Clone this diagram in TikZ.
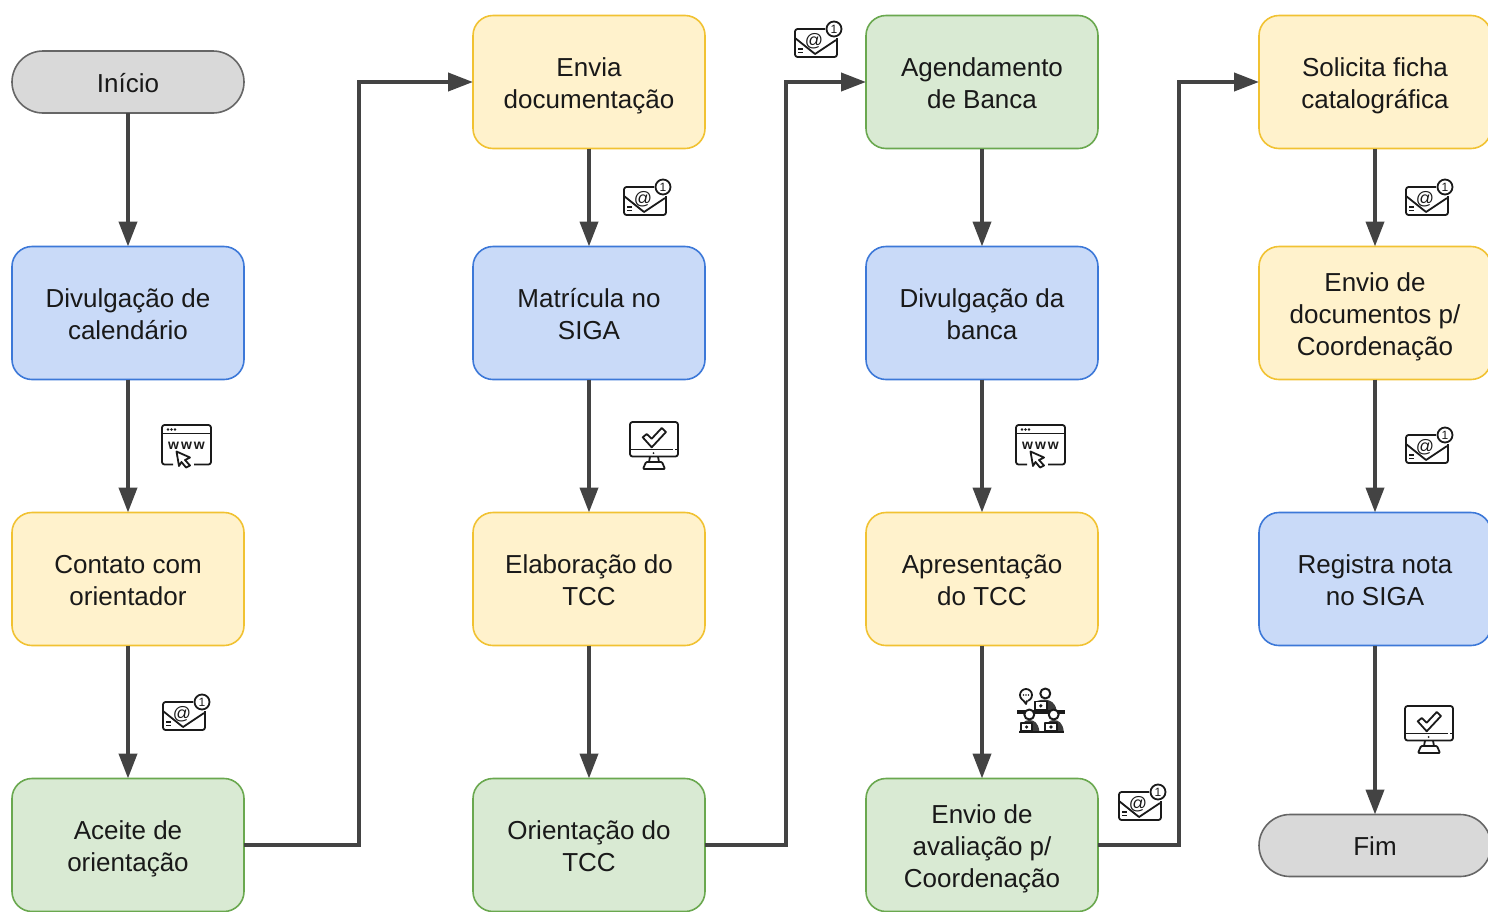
\documentclass[tikz,border=0pt]{standalone}
\usepackage{fontspec}
\setmainfont{Liberation Sans}
\usetikzlibrary{arrows.meta}
\definecolor{linegray}{HTML}{434343}
\definecolor{iconblack}{HTML}{1A1A1A}
\definecolor{boxyellow}{HTML}{F1C232}
\definecolor{fillyellow}{HTML}{FFF2CC}
\definecolor{boxblue}{HTML}{3C78D8}
\definecolor{fillblue}{HTML}{C9DAF8}
\definecolor{boxgreen}{HTML}{6AA84F}
\definecolor{fillgreen}{HTML}{D9EAD3}
\definecolor{boxgray}{HTML}{666666}
\definecolor{fillgray}{HTML}{D9D9D9}
\tikzset{
	flow node/.style={rounded corners=20pt,line width=1.6pt,minimum width=232pt,minimum height=133pt,align=center,inner sep=0pt,outer sep=0pt,
		font=\fontsize{26}{32}\selectfont,text=black!90,
		execute at end node={\rule[-6.2pt]{0pt}{6.2pt}}},
	text box/.style={flow node,execute at begin node={\rule{0pt}{59pt}}},
	three lines/.style={execute at begin node={\rule{0pt}{91pt}}},
	yellow box/.style={text box,draw=boxyellow,fill=fillyellow},
	blue box/.style={text box,draw=boxblue,fill=fillblue},
	green box/.style={text box,draw=boxgreen,fill=fillgreen},
	end node/.style={flow node,execute at begin node={\rule{0pt}{27pt}},rounded corners=31pt,minimum height=62pt,draw=boxgray,fill=fillgray},
	flow arrow/.style={line width=4pt,draw=linegray,-{Triangle[length=25pt,width=18pt]}},
	icon line/.style={line width=1.8pt,draw=iconblack,line join=round},
	icon text/.style={inner sep=0pt,text=iconblack},
	mailicon/.pic={
		\draw[icon line,rounded corners=2.5pt] (-9,0) -- (-39,0) -- (-39,28) -- (3,28) -- (3,9);
		\draw[icon line] (-39,9) -- (-19,25) -- (2,11);
		\draw[icon line] (-36,20) -- (-31,20) (-36,23.5) -- (-31,23.5);
		\node[icon text,font=\fontsize{18}{18}\selectfont] (at) at (-20,12) {@};
		\draw[icon line,fill=white] (0,0) circle (7.5);
		\node[icon text,font=\fontsize{12}{12}\selectfont] (num) at (0,0) {1};
	},
	wwwicon/.pic={
		\draw[icon line,rounded corners=2.5pt] (11,39.5) -- (0,39.5) -- (0,0) -- (49,0) -- (49,39.5) -- (32,39.5);
		\draw[icon line] (0,8.5) -- (49,8.5);
		\foreach \dotx in {6,9.5,13}
			\fill[iconblack] (\dotx,4.5) circle (1.3);
		\node[icon text,font=\fontsize{14}{14}\selectfont\bfseries] (www) at (24.5,21) {w\kern2pt w\kern2pt w};
		\draw[icon line,fill=white] (14.5,26.5) -- (28,32.5) -- (23,35) -- (28,40.5) -- (24,42.5) -- (19.5,37) -- (17,41) -- cycle;
	},
	checkicon/.pic={
		\draw[icon line,rounded corners=2.5pt] (0,0) rectangle (48,34.5);
		\draw[icon line] (0,27.5) -- (43,27.5) (45,27.5) -- (48,27.5);
		\fill[iconblack] (23.5,31) circle (1);
		\draw[icon line] (12.7,15.3) -- (16.7,12) -- (21.7,16.7) -- (31.7,6) -- (36,10) -- (21.7,25.3) -- cycle;
		\draw[icon line] (20,34.5) -- (19,40) (28,34.5) -- (29,40);
		\draw[icon line,rounded corners=1pt] (16,40) -- (32,40) -- (35,47) -- (13,47) -- cycle;
	},
	teamicon/.pic={
		\draw[icon line] (9,6) circle (6);
		\fill[white] (6,10) -- (9,15) -- (11,10) -- cycle;
		\draw[icon line] (6,11) -- (9,15) -- (10,11.5);
		\foreach \dotx in {6.5,9,11.5}
			\fill[iconblack] (\dotx,6) circle (.9);
		\draw[icon line,line width=2pt] (28.3,4.5) circle (5);
		\fill[iconblack!85] (20,12) .. controls (30,8.5) and (38,12) .. (39.5,21) -- (20,21) -- cycle;
		\draw[icon line,fill=white] (17.7,12.5) rectangle (30,21);
		\fill[iconblack] (23.8,16.8) circle (1.8);
		\fill[iconblack] (0,21) rectangle (47.7,25);
		\foreach \headx in {12.3,36.7}{
			\draw[icon line,line width=2pt,fill=white] (\headx,25.5) circle (5);
			\fill[iconblack!85] (\headx-9.5,42) .. controls (\headx-9,34) and (\headx-4,31) .. (\headx,31) .. controls (\headx+5,31) and (\headx+9,34) .. (\headx+10,42) -- cycle;
			\draw[icon line,fill=white] (\headx-8.5,34) rectangle (\headx+3,42);
			\fill[iconblack] (\headx-2.7,38) circle (1.8);
		}
		\fill[iconblack] (1.7,41.5) rectangle (47,44);
	}
}
\begin{document}
\begin{tikzpicture}[x=1pt,y=-1pt]
	\clip[use as bounding box] (0,0) rectangle (1488,911);
	% first column
	\node[end node] (inicio) at (128,82) {Início};
	\node[blue box] (divulgacao) at (128,313) {Divulgação de\\calendário};
	\node[yellow box] (contato) at (128,579) {Contato com\\orientador};
	\node[green box] (aceite) at (128,845) {Aceite de\\orientação};
	% second column
	\node[yellow box] (envia) at (589,82) {Envia\\documentação};
	\node[blue box] (matricula) at (589,313) {Matrícula no\\SIGA};
	\node[yellow box] (elaboracao) at (589,579) {Elaboração do\\TCC};
	\node[green box] (orientacao) at (589,845) {Orientação do\\TCC};
	% third column
	\node[green box] (agendamento) at (982,82) {Agendamento\\de Banca};
	\node[blue box] (banca) at (982,313) {Divulgação da\\banca};
	\node[yellow box] (apresentacao) at (982,579) {Apresentação\\do TCC};
	\node[green box,three lines] (avaliacao) at (982,845) {Envio de\\avaliação p/\\Coordenação};
	% fourth column
	\node[yellow box] (ficha) at (1375,82) {Solicita ficha\\catalográfica};
	\node[yellow box,three lines] (documentos) at (1375,313) {Envio de\\documentos p/\\Coordenação};
	\node[blue box] (nota) at (1375,579) {Registra nota\\no SIGA};
	\node[end node] (fim) at (1375,845.5) {Fim};
	% turns
	\coordinate (turn1) at (358.5,463);
	\coordinate (turn2) at (785.5,463);
	\coordinate (turn3) at (1178.5,463);
	% arrows
	\draw[flow arrow] (inicio) -- (divulgacao);
	\draw[flow arrow] (divulgacao) -- (contato);
	\draw[flow arrow] (contato) -- (aceite);
	\draw[flow arrow] (aceite.east) -| (turn1) |- (envia.west);
	\draw[flow arrow] (envia) -- (matricula);
	\draw[flow arrow] (matricula) -- (elaboracao);
	\draw[flow arrow] (elaboracao) -- (orientacao);
	\draw[flow arrow] (orientacao.east) -| (turn2) |- (agendamento.west);
	\draw[flow arrow] (agendamento) -- (banca);
	\draw[flow arrow] (banca) -- (apresentacao);
	\draw[flow arrow] (apresentacao) -- (avaliacao);
	\draw[flow arrow] (avaliacao.east) -| (turn3) |- (ficha.west);
	\draw[flow arrow] (ficha) -- (documentos);
	\draw[flow arrow] (documentos) -- (nota);
	\draw[flow arrow] (nota) -- (fim);
	% icons
	\pic (maila) at (202,702) {mailicon};
	\pic (mailb) at (663,187) {mailicon};
	\pic (mailc) at (834,29) {mailicon};
	\pic (maild) at (1158,792) {mailicon};
	\pic (maile) at (1445,187) {mailicon};
	\pic (mailf) at (1445,435) {mailicon};
	\pic (wwwa) at (162,425) {wwwicon};
	\pic (wwwb) at (1016,425) {wwwicon};
	\pic (checka) at (630,422) {checkicon};
	\pic (checkb) at (1405,706) {checkicon};
	\pic (teama) at (1017,689) {teamicon};
\end{tikzpicture}
\end{document}
